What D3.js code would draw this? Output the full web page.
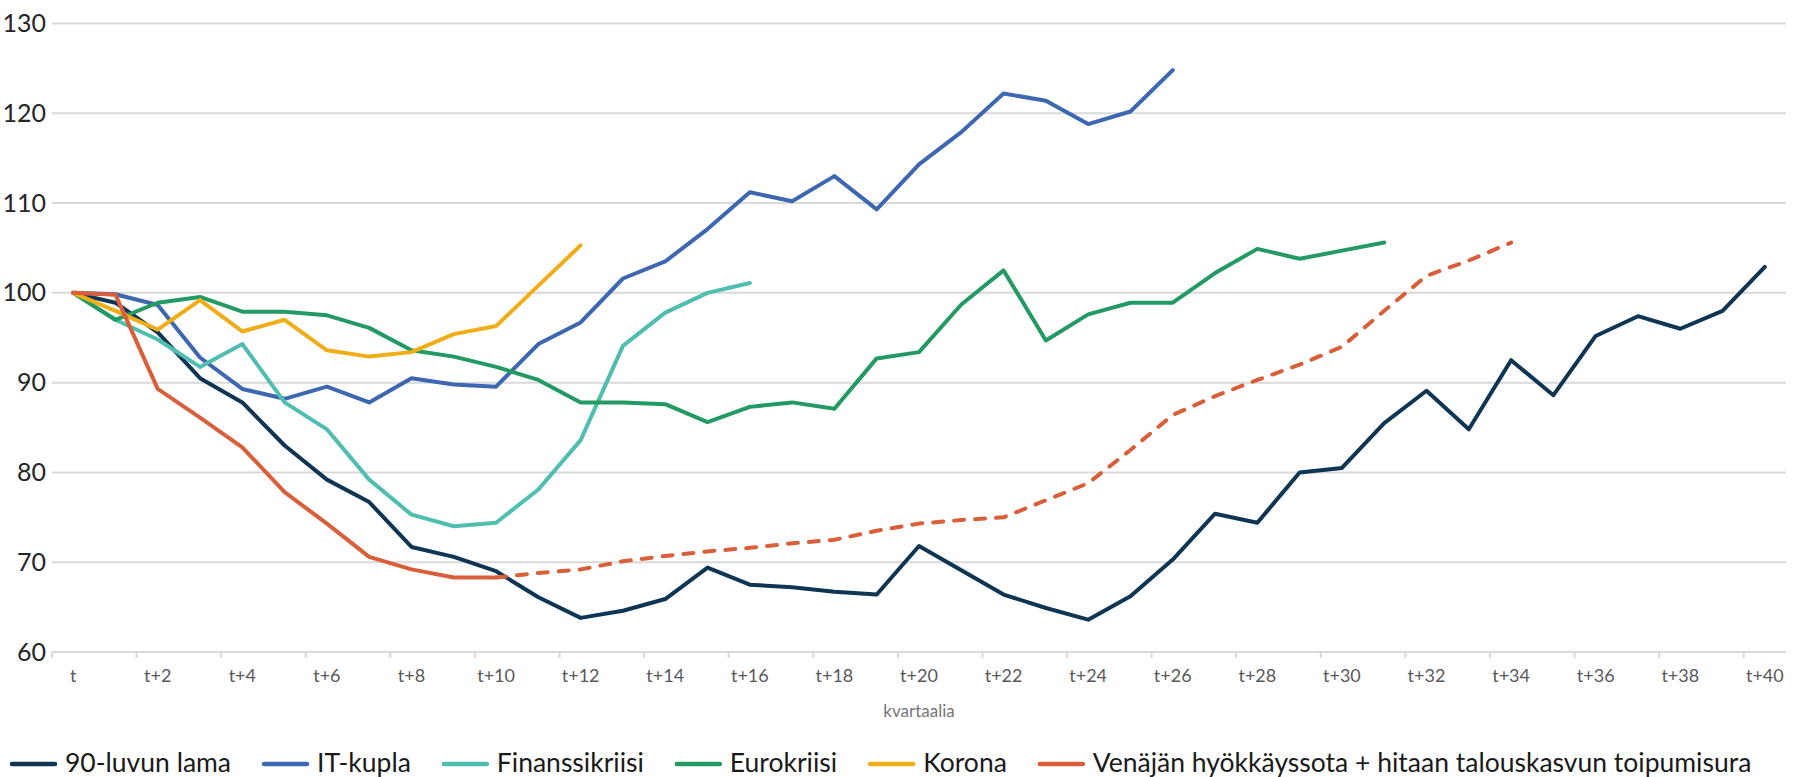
<!DOCTYPE html>
<html>
<head>
<meta charset="utf-8">
<script src="https://d3js.org/d3.v7.min.js"></script>
<style>
  body { margin: 0; background: #fff; }
  text { font-family: Lato, "Open Sans", sans-serif; }
</style>
</head>
<body>
<div id="chart"></div>
<script>
var width = 1799;
var height = 777;
var marginleft = 52;
var marginright = 13;
var margintop = 23.5;
var marginbottom = 125;

// quarters after the start of each crisis
var quarters = d3.range(0, 41).map(function (i) { return i === 0 ? "t" : "t+" + i; });
var tickLabels = quarters.filter(function (d, i) { return i % 2 === 0; });
var yTicks = [60, 70, 80, 90, 100, 110, 120, 130];

var lama90 = [100, 98.9, 95.6, 90.5, 87.8, 83.0, 79.2, 76.7, 71.7, 70.6, 69.0, 66.1, 63.8, 64.6, 65.9, 69.4, 67.5, 67.2, 66.7, 66.4, 71.8,
  69.1, 66.4, 64.9, 63.6, 66.2, 70.3, 75.4, 74.4, 80.0, 80.5, 85.5, 89.1, 84.8, 92.5, 88.6, 95.2, 97.4, 96.0, 98.0, 102.9];
var itKupla = [100, 99.85, 98.65, 92.8, 89.3, 88.2, 89.55, 87.8, 90.5, 89.8, 89.55, 94.3, 96.7, 101.6, 103.5, 107.1, 111.2, 110.2, 113.0,
  109.3, 114.3, 117.9, 122.2, 121.4, 118.8, 120.2, 124.8];
var finanssikriisi = [100, 97.0, 94.8, 91.75, 94.3, 87.8, 84.8, 79.2, 75.3, 74.0, 74.4, 78.1, 83.6, 94.1, 97.8, 100.0, 101.1];
var eurokriisi = [100, 97.0, 98.9, 99.55, 97.9, 97.9, 97.5, 96.1, 93.6, 92.9, 91.75, 90.3, 87.8, 87.8, 87.6, 85.6, 87.3, 87.8, 87.1, 92.7,
  93.4, 98.7, 102.5, 94.7, 97.6, 98.9, 98.9, 102.2, 104.9, 103.8, 104.7, 105.6];
var korona = [100, 98.0, 95.9, 99.2, 95.7, 97.0, 93.6, 92.9, 93.4, 95.4, 96.3, 100.8, 105.3];
var sota = [100, 99.8, 89.3, 86.1, 82.8, 77.8, 74.3, 70.6, 69.2, 68.3, 68.3];
// slow recovery path, starts at quarter t+10
var sotaPolku = [68.3, 68.8, 69.2, 70.1, 70.7, 71.2, 71.6, 72.1, 72.5, 73.5, 74.3, 74.7, 75.0, 76.9, 78.8, 82.5, 86.4, 88.5, 90.3, 92.0,
  94.0, 98.0, 101.9, 103.6, 105.6];
var sotaPolkuStart = 10;

var seriesNames = ["90-luvun lama", "IT-kupla", "Finanssikriisi", "Eurokriisi", "Korona", "Venäjän hyökkäyssota + hitaan talouskasvun toipumisura"];
var seriesColors = ["#0e3554", "#3e67b1", "#4fbdb0", "#239a63", "#f0ad17", "#d95f3b"];

var series = [
  { name: seriesNames[0], color: seriesColors[0], start: 0, values: lama90 },
  { name: seriesNames[1], color: seriesColors[1], start: 0, values: itKupla },
  { name: seriesNames[2], color: seriesColors[2], start: 0, values: finanssikriisi },
  { name: seriesNames[3], color: seriesColors[3], start: 0, values: eurokriisi },
  { name: seriesNames[4], color: seriesColors[4], start: 0, values: korona },
  { name: seriesNames[5], color: seriesColors[5], start: 0, values: sota },
  { name: seriesNames[5], color: seriesColors[5], start: sotaPolkuStart, values: sotaPolku, dashed: true }
];

var svg = d3.select("#chart")
  .append("svg")
  .attr("width", width)
  .attr("height", height);

var x = d3.scaleBand()
  .domain(quarters)
  .range([marginleft, width - marginright])
  .padding(0);

var y = d3.scaleLinear()
  .domain([60, 130])
  .range([height - marginbottom, margintop]);

var xc = function (i) { return x(quarters[i]) + x.bandwidth() / 2; };

// gridlines
svg.append("g")
  .selectAll("line")
  .data(yTicks)
  .enter()
  .append("line")
    .attr("x1", marginleft)
    .attr("x2", width - marginright)
    .attr("y1", function (d) { return y(d); })
    .attr("y2", function (d) { return y(d); })
    .attr("stroke", "#d9d9d9")
    .attr("stroke-width", 2);

// y axis labels
var yAxis = svg.append("g")
  .attr("transform", "translate(" + (marginleft - 6) + ",0)")
  .call(d3.axisLeft(y).tickValues(yTicks).tickSize(0).tickPadding(0));
yAxis.select(".domain").remove();
yAxis.selectAll("text")
  .style("font-family", "Lato, sans-serif")
  .style("font-size", "25px")
  .attr("fill", "#262626");

// x axis: tick marks at the band edges, labels in the middle
svg.append("g")
  .selectAll("line")
  .data(tickLabels)
  .enter()
  .append("line")
    .attr("x1", function (d) { return x(d); })
    .attr("x2", function (d) { return x(d); })
    .attr("y1", y(60))
    .attr("y2", y(60) + 6)
    .attr("stroke", "#d9d9d9")
    .attr("stroke-width", 2);

var xAxis = svg.append("g")
  .attr("transform", "translate(0," + y(60) + ")")
  .call(d3.axisBottom(x).tickValues(tickLabels).tickSize(0).tickPadding(17));
xAxis.select(".domain").remove();
xAxis.selectAll("text")
  .style("font-family", "Lato, sans-serif")
  .style("font-size", "18px")
  .attr("fill", "#595959");

svg.append("text")
  .attr("x", (marginleft + width - marginright) / 2)
  .attr("y", 717)
  .attr("text-anchor", "middle")
  .style("font-size", "17px")
  .attr("fill", "#767676")
  .text("kvartaalia");

// lines
var line = d3.line()
  .x(function (d) { return xc(d.i); })
  .y(function (d) { return y(d.v); });

svg.append("g")
  .selectAll("path")
  .data(series)
  .enter()
  .append("path")
    .attr("d", function (s) {
      return line(s.values.map(function (v, k) { return { i: s.start + k, v: v }; }));
    })
    .attr("fill", "none")
    .attr("stroke", function (s) { return s.color; })
    .attr("stroke-width", 4)
    .attr("stroke-linejoin", "round")
    .attr("stroke-linecap", "round")
    .attr("stroke-dasharray", function (s) { return s.dashed ? "10,11" : null; });

// legend
var legend = svg.append("g").attr("transform", "translate(0,763)");
var lx = 10;
seriesNames.forEach(function (name, i) {
  legend.append("line")
    .attr("x1", lx + 2)
    .attr("x2", lx + 45)
    .attr("y1", 1)
    .attr("y2", 1)
    .attr("stroke", seriesColors[i])
    .attr("stroke-width", 4.5)
    .attr("stroke-linecap", "round");
  var t = legend.append("text")
    .attr("x", lx + 55)
    .attr("y", 0)
    .attr("dy", "0.35em")
    .style("font-size", "26.5px")
    .attr("fill", "#1a1a1a")
    .text(name);
  lx = lx + 55 + t.node().getComputedTextLength() + 31;
});
</script>
</body>
</html>
